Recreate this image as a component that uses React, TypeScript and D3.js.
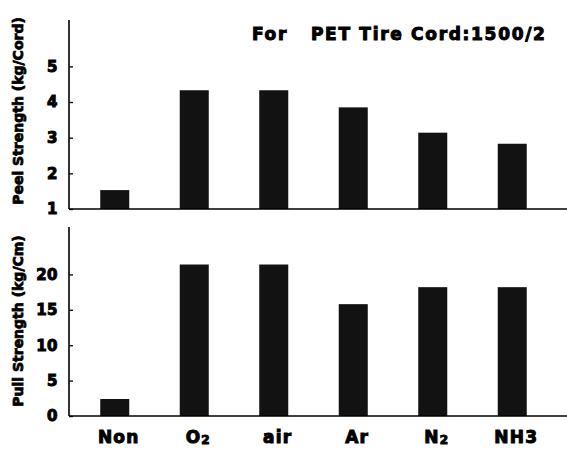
import React, { useEffect, useRef } from "react";
import * as d3 from "d3";

const categories = ["Non", "O2", "air", "Ar", "N2", "NH3"];
const peelStrength = [1.53, 4.33, 4.33, 3.85, 3.14, 2.83];
const pullStrength = [2.4, 21.4, 21.4, 15.8, 18.2, 18.2];
const peelTicks = [1, 2, 3, 4, 5];
const pullTicks = [0, 5, 10, 15, 20];

const App = () => {
  const svgRef = useRef<SVGSVGElement>(null);

  useEffect(() => {
    const width = 567;
    const height = 450;
    const marginLeft = 69;
    const font = "'DejaVu Sans', Verdana, sans-serif";

    const svg = d3
      .select(svgRef.current)
      .attr("width", width)
      .attr("height", height);
    svg.selectAll("*").remove();

    // x scale shared by both panels
    const x = d3
      .scaleBand()
      .domain(categories)
      .range([75, 552])
      .paddingInner(0.635)
      .paddingOuter(0.3175);

    const drawPanel = (
      values: number[],
      ticks: number[],
      domain: [number, number],
      top: number,
      bottom: number,
      label: string,
      labelY: number
    ) => {
      const y = d3.scaleLinear().domain(domain).range([bottom, top]);
      const g = svg.append("g");

      // bars
      g.selectAll("rect")
        .data(values)
        .join("rect")
        .attr("x", (_, i) => x(categories[i])!)
        .attr("width", x.bandwidth())
        .attr("y", (d) => y(d))
        .attr("height", (d) => y(domain[0]) - y(d))
        .attr("fill", "#121212");

      // y-axis ticks
      const axis = g
        .append("g")
        .attr("transform", `translate(${marginLeft},0)`)
        .call(d3.axisRight(y).tickValues(ticks).tickSize(4).tickFormat(() => ""));
      axis.select(".domain").remove();
      axis.selectAll("line").attr("stroke", "#000").attr("stroke-width", 1.3);

      g.append("line")
        .attr("x1", marginLeft)
        .attr("x2", marginLeft)
        .attr("y1", top)
        .attr("y2", bottom)
        .attr("stroke", "#000")
        .attr("stroke-width", 1.6);

      // baseline
      g.append("line")
        .attr("x1", marginLeft)
        .attr("x2", width)
        .attr("y1", y(domain[0]))
        .attr("y2", y(domain[0]))
        .attr("stroke", "#000")
        .attr("stroke-width", 1.6);

      // tick labels
      g.selectAll("text.tick")
        .data(ticks)
        .join("text")
        .attr("class", "tick")
        .attr("x", 58)
        .attr("y", (d) => y(d))
        .attr("dy", "0.36em")
        .attr("text-anchor", "end")
        .style("font-family", font)
        .style("font-weight", "bold")
        .style("font-size", "15px")
        .style("letter-spacing", "0.5px")
        .style("stroke", "#000")
        .style("stroke-width", 1)
        .text((d) => d);

      // y-axis label
      g.append("text")
        .attr("transform", `translate(23, ${labelY}) rotate(-90)`)
        .attr("text-anchor", "middle")
        .style("font-family", font)
        .style("font-weight", "bold")
        .style("font-size", "14px")
        .style("stroke", "#000")
        .style("stroke-width", 0.8)
        .text(label);
    };

    drawPanel(peelStrength, peelTicks, [1, 6.3], 20, 209, "Peel Strength (kg/Cord)", 111);
    drawPanel(pullStrength, pullTicks, [0, 26.7], 227, 416, "Pull Strength (kg/Cm)", 321);

    // title
    svg
      .append("text")
      .attr("x", 252)
      .attr("y", 40)
      .attr("xml:space", "preserve")
      .style("white-space", "pre")
      .style("font-family", font)
      .style("font-weight", "bold")
      .style("font-size", "17px")
      .style("letter-spacing", "1.7px")
      .style("stroke", "#000")
      .style("stroke-width", 1)
      .text("For   PET Tire Cord:1500/2");

    // category labels with subscripts
    const labels = svg
      .selectAll("text.cat")
      .data(categories)
      .join("text")
      .attr("class", "cat")
      .attr("x", (d) => x(d)! + x.bandwidth() / 2 + 4)
      .attr("y", 443)
      .attr("text-anchor", "middle")
      .style("font-family", font)
      .style("font-weight", "bold")
      .style("font-size", "17px")
      .style("letter-spacing", "1.2px")
      .style("stroke", "#000")
      .style("stroke-width", 1);
    labels.each(function (d) {
      const t = d3.select(this);
      const m = d.match(/^([A-Z][a-z]?)(2)$/);
      if (m) {
        t.append("tspan").text(m[1]);
        t.append("tspan").attr("font-size", "12px").attr("dy", 1).text(m[2]);
      } else {
        t.text(d);
      }
    });
  }, []);

  return (
    <div style={{ position: "absolute", left: 0, top: 0 }}>
      <svg ref={svgRef}></svg>
    </div>
  );
};
export default App;
